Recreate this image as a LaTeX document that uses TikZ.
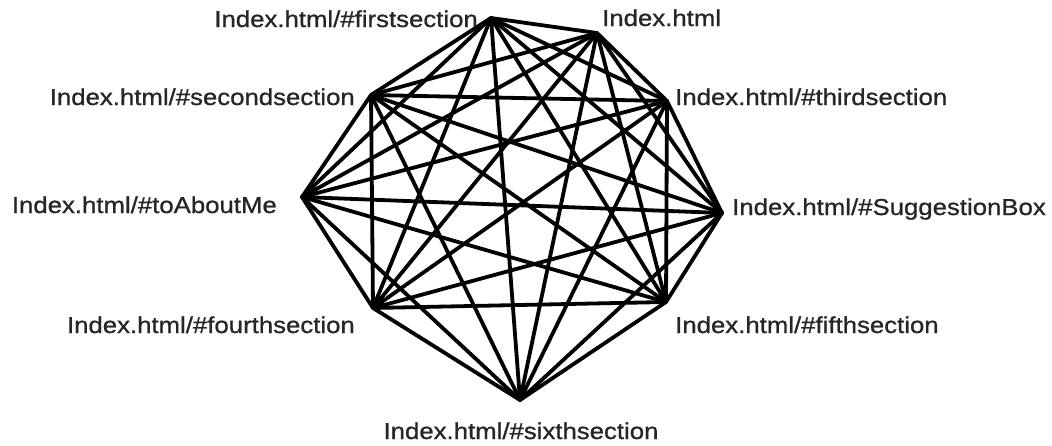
\documentclass[tikz,border=0pt]{standalone}
\usepackage{fontspec}
\setmainfont{Liberation Sans}[FakeStretch=1.12,FakeBold=0.9]
\begin{document}
\begin{tikzpicture}[x=1pt,y=-1pt,
  edge/.style={line width=3.8pt,line cap=round,line join=round,black},
  lbl/.style={font=\fontsize{23}{26}\selectfont,inner sep=0pt,text=black!85}]
\useasboundingbox (0,0) rectangle (1052,445);
\coordinate (v1) at (491,18);
\coordinate (v2) at (597,33);
\coordinate (v3) at (667,101);
\coordinate (v4) at (722,213);
\coordinate (v5) at (666,302);
\coordinate (v6) at (520,400);
\coordinate (v7) at (373,308);
\coordinate (v8) at (302,197);
\coordinate (v9) at (371,95);
\foreach \i in {1,...,8}{
  \pgfmathtruncatemacro{\s}{\i+1}
  \foreach \j in {\s,...,9}{
    \draw[edge] (v\i) -- (v\j);
  }
}
\node[lbl,anchor=base east] (l1) at (478,27) {Index.html/\#firstsection};
\node[lbl,anchor=base west] (l2) at (602,26) {Index.html};
\node[lbl,anchor=base west] (l3) at (675,105) {Index.html/\#thirdsection};
\node[lbl,anchor=base west] (l4) at (732,215) {Index.html/\#SuggestionBox};
\node[lbl,anchor=base west] (l5) at (675,333) {Index.html/\#fifthsection};
\node[lbl,anchor=base] (l6) at (521,439) {Index.html/\#sixthsection};
\node[lbl,anchor=base east] (l7) at (355,333) {Index.html/\#fourthsection};
\node[lbl,anchor=base east] (l8) at (277,213) {Index.html/\#toAboutMe};
\node[lbl,anchor=base east] (l9) at (355,105) {Index.html/\#secondsection};
\end{tikzpicture}
\end{document}
